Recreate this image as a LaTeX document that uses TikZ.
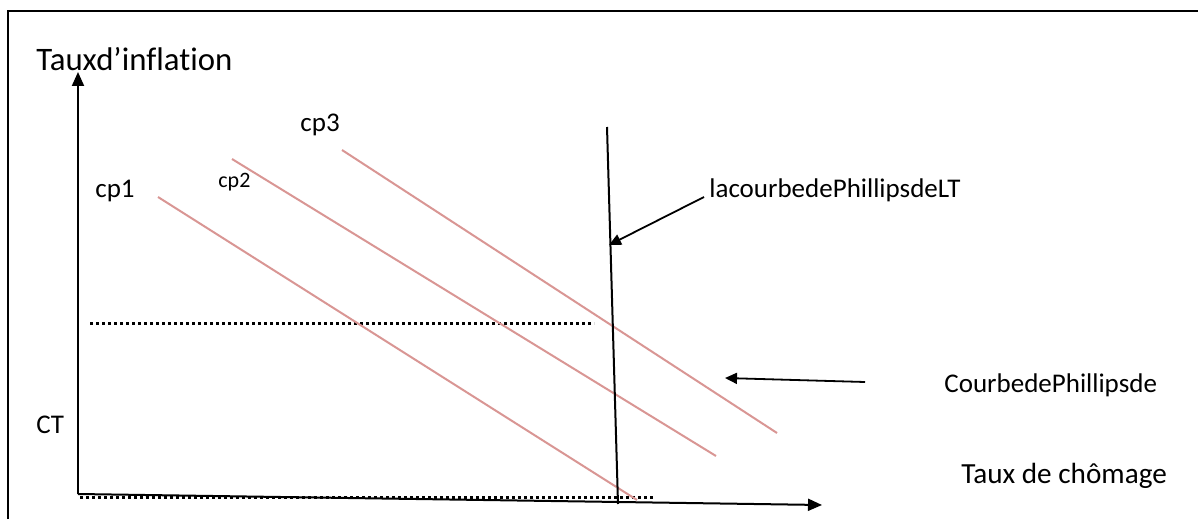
\documentclass[tikz,border=0pt]{standalone}
\usepackage{fontspec}
\setmainfont{Carlito}[Ligatures=NoCommon]
\usetikzlibrary{arrows.meta}

\begin{document}
\begin{tikzpicture}[x=0.5pt, y=-0.5pt,
        txt/.style={anchor=base west, inner sep=0pt, font=\fontsize{13.5}{16}\selectfont},
        cp/.style={draw={rgb,255:red,217;green,150;blue,148}, line width=1pt},
        dots/.style={line width=1.5pt, dash pattern=on 1.3pt off 1.7pt},
        axis/.style={line width=1pt, -{Triangle[length=7pt, width=6pt]}},
        pointer/.style={line width=0.9pt, -{Triangle[length=6pt, width=5.5pt]}}]
                    \useasboundingbox (0, 0) rectangle (1198, 519);
                    % frame
                    \draw [line width=1pt] (8, 519) -- (8, 11) -- (1198, 11);

                    \coordinate (O) at (78, 494);
                    \coordinate (YTOP) at (78, 72);
                    \coordinate (XEND) at (822, 505);
                    \node (INFL) [txt, font=\fontsize{16.4}{19}\selectfont] at (36, 71) {Tauxd’inflation};
                    \node (CHOM) [txt, font=\fontsize{14.6}{17}\selectfont] at (961, 483) {Taux de chômage};
                    \node (CT) [txt] at (36, 433) {CT};

                    % dotted levels
                    \coordinate (DA1) at (80, 497);
                    \coordinate (DA2) at (655, 497);
                    \coordinate (DB1) at (90, 323);
                    \coordinate (DB2) at (594, 323);
                    \draw [dots] (DA1) -- (DA2);
                    \draw [dots] (DB1) -- (DB2);

                    % short run curves
                    \coordinate (CP1A) at (158, 197);
                    \coordinate (CP1B) at (637, 500);
                    \coordinate (CP2A) at (232, 159);
                    \coordinate (CP2B) at (716, 456);
                    \coordinate (CP3A) at (342, 150);
                    \coordinate (CP3B) at (777, 433);
                    \draw [cp] (CP1A) -- (CP1B);
                    \draw [cp] (CP2A) -- (CP2B);
                    \draw [cp] (CP3A) -- (CP3B);
                    \node (CPI) [txt] at (95, 197) {cp1};
                    \node (CPII) [txt, font=\fontsize{11}{13}\selectfont] at (218, 187) {cp2};
                    \node (CPIII) [txt] at (300, 132) {cp3};

                    % long run curve
                    \coordinate (LT1) at (607, 127);
                    \coordinate (LT2) at (618, 504);
                    \draw [line width=1pt] (LT1) -- (LT2);

                    \draw [axis] (O) -- (YTOP);
                    \draw [axis] (O) -- (XEND);

                    \node (LTLBL) [txt] at (709, 197) {lacourbedePhillipsdeLT};
                    \coordinate (LTFROM) at (704, 197);
                    \coordinate (LTTO) at (609, 245);
                    \draw [pointer] (LTFROM) -- (LTTO);

                    \node (CTLBL) [txt] at (944, 392) {CourbedePhillipsde};
                    \coordinate (CTFROM) at (865, 382);
                    \coordinate (CTTO) at (725, 378);
                    \draw [pointer] (CTFROM) -- (CTTO);
                \end{tikzpicture}
\end{document}
